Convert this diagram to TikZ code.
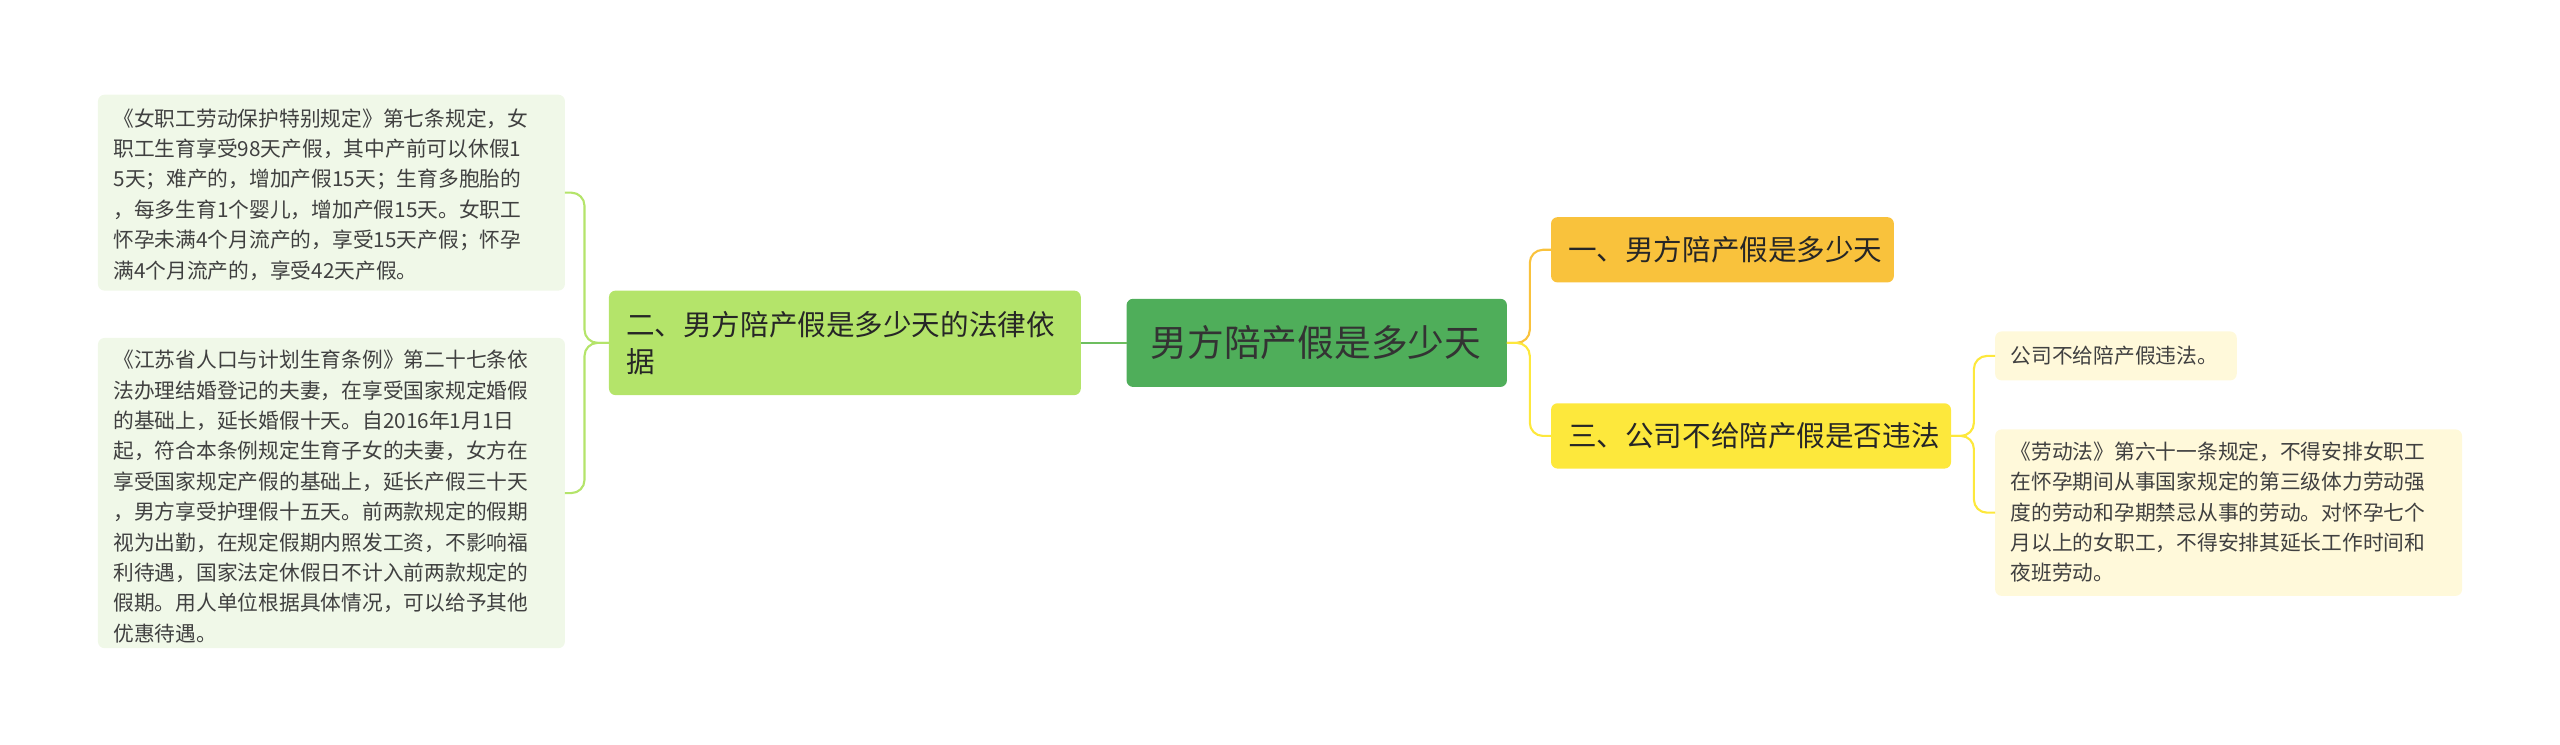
\documentclass[tikz,border=0pt]{standalone}
\usepackage{fontspec}
\setmainfont{Noto Sans CJK SC}
\begin{document}
\begin{tikzpicture}[x=1pt,y=-1pt,
 box/.style={rounded corners=4pt,inner sep=0pt,anchor=north west},
 leaf/.style={font=\fontsize{12.7}{18.6}\selectfont,align=left,text=black!75},
 big/.style={font=\fontsize{17.5}{23}\selectfont,align=left,text=black!85},
 conn/.style={line width=1.3pt,rounded corners=8pt}]
\useasboundingbox (0,0) rectangle (1568,456);
\definecolor{cgreen}{HTML}{4FAE5A}
\definecolor{lgreen}{HTML}{B4E46A}
\definecolor{pgreen}{HTML}{F0F8E8}
\definecolor{corange}{HTML}{F9C23C}
\definecolor{cyellow}{HTML}{FDE83C}
\definecolor{pyellow}{HTML}{FFF9DA}
% nodes
\fill[cgreen,rounded corners=4pt] (690,183) rectangle (923,237);
\node (c) at (806,210) {\fontsize{22.5}{26}\selectfont\color{black!80}男方陪产假是多少天};
\coordinate (cL) at (690,210); \coordinate (cR) at (923,210);
\fill[lgreen,rounded corners=4pt] (373,178) rectangle (662,242);
\node[big,anchor=west] (l) at (380,210) {二、男方陪产假是多少天的法律依\\据};
\coordinate (lR) at (662,210); \coordinate (lL) at (373,210);
\fill[pgreen,rounded corners=4pt] (60,58) rectangle (346,178);
\node[leaf,anchor=north west] (l1) at (66,63) {《女职工劳动保护特别规定》第七条规定，女\\职工生育享受98天产假，其中产前可以休假1\\5天；难产的，增加产假15天；生育多胞胎的\\，每多生育1个婴儿，增加产假15天。女职工\\怀孕未满4个月流产的，享受15天产假；怀孕\\满4个月流产的，享受42天产假。};
\coordinate (l1R) at (346,118);
\fill[pgreen,rounded corners=4pt] (60,207) rectangle (346,397);
\node[leaf,anchor=north west] (l2) at (66,211) {《江苏省人口与计划生育条例》第二十七条依\\法办理结婚登记的夫妻，在享受国家规定婚假\\的基础上，延长婚假十天。自2016年1月1日\\起，符合本条例规定生育子女的夫妻，女方在\\享受国家规定产假的基础上，延长产假三十天\\，男方享受护理假十五天。前两款规定的假期\\视为出勤，在规定假期内照发工资，不影响福\\利待遇，国家法定休假日不计入前两款规定的\\假期。用人单位根据具体情况，可以给予其他\\优惠待遇。};
\coordinate (l2R) at (346,302);
\fill[corange,rounded corners=4pt] (950,133) rectangle (1160,173);
\node[big,anchor=west] (r1) at (957,153) {一、男方陪产假是多少天};
\coordinate (r1L) at (950,153);
\fill[cyellow,rounded corners=4pt] (950,247) rectangle (1195,287);
\node[big,anchor=west] (r2) at (957,267) {三、公司不给陪产假是否违法};
\coordinate (r2L) at (950,267); \coordinate (r2R) at (1195,267);
\fill[pyellow,rounded corners=4pt] (1222,203) rectangle (1370,233);
\node[leaf,anchor=west] (q1) at (1228,218) {公司不给陪产假违法。};
\coordinate (q1L) at (1222,218);
\fill[pyellow,rounded corners=4pt] (1222,263) rectangle (1508,365);
\node[leaf,anchor=north west] (q2) at (1228,267) {《劳动法》第六十一条规定，不得安排女职工\\在怀孕期间从事国家规定的第三级体力劳动强\\度的劳动和孕期禁忌从事的劳动。对怀孕七个\\月以上的女职工，不得安排其延长工作时间和\\夜班劳动。};
\coordinate (q2L) at (1222,314);
% connectors
\draw[conn,cgreen!70!lgreen] (cL) -- (lR);
\draw[conn,lgreen] (lL) -- (358,210) -- (358,118) -- (l1R);
\draw[conn,lgreen] (lL) -- (358,210) -- (358,302) -- (l2R);
\draw[conn,corange] (cR) -- (937,210) -- (937,153) -- (r1L);
\draw[conn,cyellow] (cR) -- (937,210) -- (937,267) -- (r2L);
\draw[conn,cyellow] (r2R) -- (1209,267) -- (1209,218) -- (q1L);
\draw[conn,cyellow] (r2R) -- (1209,267) -- (1209,314) -- (q2L);
\end{tikzpicture}
\end{document}
